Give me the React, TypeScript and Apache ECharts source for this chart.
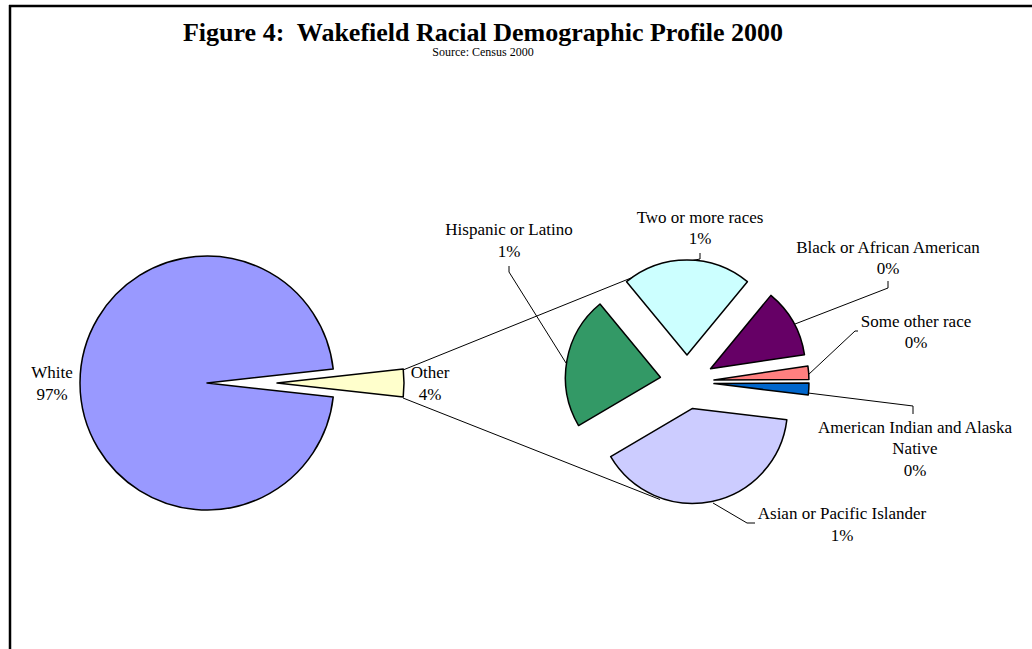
import React, { useEffect, useRef } from "react";
import * as echarts from "echarts";

// ---- data ----
const titleText = "Figure 4:  Wakefield Racial Demographic Profile 2000";
const subtitleText = "Source: Census 2000";

const mainCategories = ["White", "Other"];
const mainValues = [96.5, 3.5]; // percent of population
const mainColors = ["#9999FF", "#FFFFCC"];

const subCategories = [
  "Two or more races",
  "Black or African American",
  "Some other race",
  "American Indian and Alaska Native",
  "Asian or Pacific Islander",
  "Hispanic or Latino",
];
const subLabelNames = [
  "Two or more races",
  "Black or African American",
  "Some other race",
  "American Indian and Alaska\nNative",
  "Asian or Pacific Islander",
  "Hispanic or Latino",
];
const subValues = [0.77, 0.41, 0.08, 0.07, 1.39, 0.79]; // percent of population
const subColors = ["#CCFFFF", "#660066", "#FF8080", "#0066CC", "#CCCCFF", "#339966"];

// ---- layout (positions only) ----
const FONT = "'Liberation Serif', 'Times New Roman', serif";
const LH = 21.5;
const mainCenter = [207, 383];
const mainRadius = 127;
const mainExplode = 70;
const subCenter = [687, 382];
const subRadius = 95;
const subExplode = 27;
const subStartAngle = 129.5;

// label block: [center x, top y]
const mainLabelPos = [
  [52, 362],
  [430, 362],
];
const subLabelPos = [
  [700, 206.5],
  [888, 236.5],
  [916, 310.5],
  [915, 416.5],
  [842, 503],
  [509, 219],
];
const subLeaders = [
  [[690, 261], [700, 259], [700, 253]],
  [[795, 324], [888, 288], [888, 281]],
  [[808, 375], [855, 331], [858, 331]],
  [[808, 393], [913, 406], [913, 414]],
  [[713, 503], [747, 523], [755, 523]],
  [[566, 363], [509, 272], [509, 266]],
];

export default function App() {
  const ref = useRef<HTMLDivElement>(null);

  useEffect(() => {
    document.body.style.margin = "0";
    const chart = echarts.init(ref.current!, null, { renderer: "svg" });

    const mainSum = mainValues.reduce((a, b) => a + b, 0);
    const otherAngle = (mainValues[1] / mainSum) * 360;
    const mainStart = 360 - otherAngle / 2;

    const textEl = (text: string, pos: number[]) => ({
      type: "text",
      z: 50,
      silent: true,
      style: {
        text,
        x: pos[0],
        y: pos[1],
        align: "center",
        verticalAlign: "top",
        fontFamily: FONT,
        fontSize: 17,
        lineHeight: LH,
        fill: "#000",
      },
    });

    const mainLabels = mainCategories.map((name, i) =>
      textEl(`${name}\n${Math.round(mainValues[i])}%`, mainLabelPos[i])
    );
    const subLabels = subCategories.map((_, i) =>
      textEl(`${subLabelNames[i]}\n${Math.round(subValues[i])}%`, subLabelPos[i])
    );
    const leaders = subLeaders.map((pts) => ({
      type: "polyline",
      z: 1,
      silent: true,
      shape: { points: pts },
      style: { stroke: "#000", lineWidth: 1, fill: "none" },
    }));

    const option: any = {
      animation: false,
      backgroundColor: "#fff",
      title: [
        {
          text: titleText,
          left: 483,
          top: 19,
          textAlign: "center",
          padding: 0,
          textStyle: {
            fontFamily: FONT,
            fontSize: 26,
            fontWeight: "bold",
            color: "#000",
            lineHeight: 26,
          },
        },
        {
          text: subtitleText,
          left: 483,
          top: 46,
          textAlign: "center",
          padding: 0,
          textStyle: {
            fontFamily: FONT,
            fontSize: 12,
            fontWeight: "normal",
            color: "#000",
            lineHeight: 12,
          },
        },
      ],
      graphic: [
        {
          type: "line",
          z: 100,
          shape: { x1: 9, y1: 6, x2: 1032, y2: 6 },
          style: { stroke: "#000", lineWidth: 2.5 },
        },
        {
          type: "line",
          z: 100,
          shape: { x1: 10, y1: 5, x2: 10, y2: 649 },
          style: { stroke: "#000", lineWidth: 2.5 },
        },
        {
          type: "line",
          z: 0,
          shape: { x1: 403, y1: 370, x2: 662, y2: 265.5 },
          style: { stroke: "#000", lineWidth: 1 },
        },
        {
          type: "line",
          z: 0,
          shape: { x1: 403, y1: 398, x2: 660, y2: 499.5 },
          style: { stroke: "#000", lineWidth: 1 },
        },
        ...leaders,
        ...mainLabels,
        ...subLabels,
      ],
      series: [
        {
          type: "pie",
          z: 2,
          center: mainCenter,
          radius: mainRadius,
          startAngle: mainStart,
          clockwise: true,
          selectedMode: "single",
          selectedOffset: mainExplode,
          silent: true,
          emphasis: { disabled: true },
          itemStyle: { borderColor: "#000", borderWidth: 1.5 },
          label: { show: false },
          labelLine: { show: false },
          data: mainCategories.map((name, i) => ({
            name,
            value: mainValues[i],
            selected: i === 1,
            itemStyle: { color: mainColors[i] },
          })),
        },
        {
          type: "pie",
          z: 2,
          center: subCenter,
          radius: subRadius,
          startAngle: subStartAngle,
          clockwise: true,
          selectedMode: "multiple",
          selectedOffset: subExplode,
          silent: true,
          emphasis: { disabled: true },
          itemStyle: { borderColor: "#000", borderWidth: 1.5 },
          label: { show: false },
          labelLine: { show: false },
          data: subCategories.map((name, i) => ({
            name,
            value: subValues[i],
            selected: true,
            itemStyle: { color: subColors[i] },
          })),
        },
      ],
    };

    chart.setOption(option);
    return () => chart.dispose();
  }, []);

  return <div ref={ref} style={{ width: 1032, height: 649 }} />;
}
